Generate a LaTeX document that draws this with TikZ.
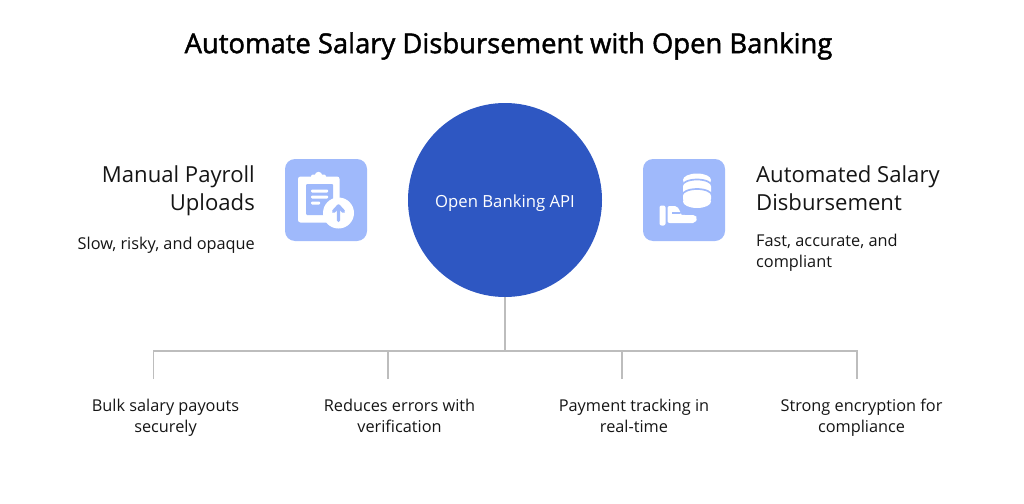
\documentclass[tikz,border=0pt]{standalone}
\usepackage{fontspec}
\setmainfont{Open Sans}
\newfontfamily\titlefam[BoldFont={Open Sans},BoldFeatures={RawFeature={embolden=1.6}}]{Open Sans}
\definecolor{ink}{HTML}{151515}
\definecolor{hub}{HTML}{2E57C2}
\definecolor{tile}{HTML}{9FB9FB}
\definecolor{wire}{HTML}{BDBDBD}
\newcommand\leadin{\rule{0pt}{13pt}}
\tikzset{
  x=1pt,y=-1pt,
  wirel/.style={draw=wire,line width=1.3pt},
  titlet/.style={font=\titlefam\bfseries\fontsize{27.4}{32}\selectfont,text=black,inner sep=0pt},
  headt/.style={font=\fontsize{22.1}{28}\selectfont,text=ink,inner sep=0pt},
  bodyt/.style={font=\fontsize{16.3}{21}\selectfont,text=ink,inner sep=0pt},
  hubt/.style={font=\fontsize{16.7}{20}\selectfont,text=white,inner sep=0pt},
  tilebox/.style={fill=tile,rounded corners=10pt},
}
\begin{document}
\begin{tikzpicture}
\useasboundingbox (0,0) rectangle (1024,503);
\node[titlet,anchor=center] (title) at (508.5,46) {Automate Salary Disbursement with Open Banking};
% hub
\node[circle,fill=hub,minimum size=194pt,inner sep=0pt] (hubn) at (505,200) {};
\node[hubt,anchor=base] (hublabel) at (505,207.5) {Open Banking API};
% connectors
\coordinate (bus) at (505,351);
\coordinate (d1) at (153.5,379);
\coordinate (d2) at (388,379);
\coordinate (d3) at (622,379);
\coordinate (d4) at (857,379);
\draw[wirel] (hubn.south) -- (bus);
\draw[wirel] (d1) |- (bus);
\draw[wirel] (d4) |- (bus);
\draw[wirel] (d2) -- (d2 |- bus);
\draw[wirel] (d3) -- (d3 |- bus);
% left text
\node[headt,anchor=north east,align=right] (lh) at (255,166) {Manual Payroll\\Uploads};
\node[bodyt,anchor=base east] (lb) at (255,249) {Slow, risky, and opaque};
% right text
\node[headt,anchor=north west,align=left] (rh) at (756,166) {Automated Salary\\Disbursement};
\node[bodyt,anchor=north west,align=left] (rb) at (756,233) {\leadin Fast, accurate, and\\compliant};
% bottom
\node[bodyt,align=center,anchor=north] (b1) at (165.5,398.5) {\leadin Bulk salary payouts\\securely};
\node[bodyt,align=center,anchor=north] (b2) at (399.5,398.5) {\leadin Reduces errors with\\verification};
\node[bodyt,align=center,anchor=north] (b3) at (634,398.5) {\leadin Payment tracking in\\real-time};
\node[bodyt,align=center,anchor=north] (b4) at (861.5,398.5) {\leadin Strong encryption for\\compliance};
% left icon
\fill[tilebox] (285,159) rectangle (367,241);
\fill[white,rounded corners=2.5pt] (298,176.5) rectangle (339.5,222.5);
\fill[white,rounded corners=2pt] (311,174.5) rectangle (326,182);
\fill[white] (318.5,175.5) circle (3.7pt);
\fill[tile,rounded corners=1pt] (306,184) rectangle (333,215);
\fill[white,rounded corners=1pt] (311,189.5) rectangle (328,192.5);
\fill[white,rounded corners=1pt] (311,195.5) rectangle (328,198.5);
\fill[white,rounded corners=1pt] (311,201.5) rectangle (320,204.5);
\fill[white] (338.5,213) circle (15.5pt);
\draw[tile,line width=3.4pt,line cap=round,line join=round] (338.5,220.5) -- (338.5,206.5) (333.5,211.5) -- (338.5,206) -- (343.5,211.5);
% right icon
\fill[tilebox] (643,159) rectangle (725,241);
\fill[white,rounded corners=3pt] (683,180) rectangle (711,202);
\fill[white] (697,180) ellipse (14pt and 6.5pt);
\fill[white] (697,201.5) ellipse (14pt and 6.5pt);
\draw[tile,line width=1.7pt] (682,186) arc[start angle=180,end angle=360,x radius=15,y radius=6.5];
\draw[tile,line width=1.7pt] (682,195.5) arc[start angle=180,end angle=360,x radius=15,y radius=6.5];
\fill[white,rounded corners=2pt] (659.5,205.5) rectangle (665.5,225.5);
\fill[white,rounded corners=2pt] (667.5,206) -- (677,206) -- (681,213) -- (680,214.5) -- (683,215) -- (695,215) -- (697.5,218) -- (695,223) -- (667.5,223) -- cycle;
\draw[tile,line width=2pt] (672,212.5) -- (680,212.5);
\end{tikzpicture}
\end{document}
